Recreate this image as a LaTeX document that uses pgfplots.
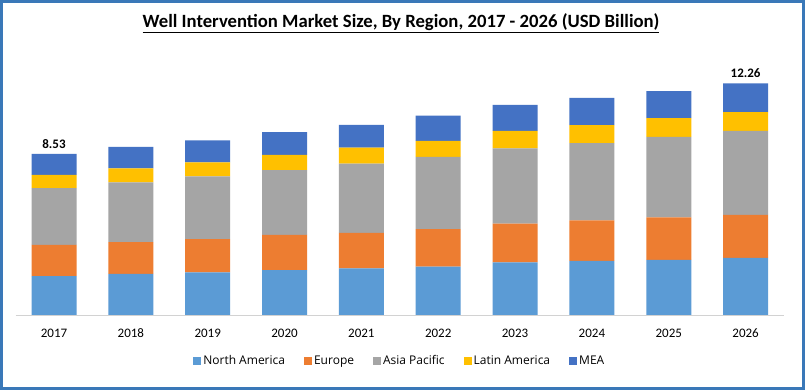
\documentclass[border=0pt]{standalone}
\usepackage{pgfplots}
\pgfplotsset{compat=1.18}
\usepackage{pgfplotstable}
\usepackage{fontspec}
\setmainfont{Carlito}[Numbers={Lining,Monospaced}]
\newfontfamily\legfont{Open Sans}
\definecolor{cNA}{HTML}{5B9BD5}
\definecolor{cEU}{HTML}{ED7D31}
\definecolor{cAP}{HTML}{A5A5A5}
\definecolor{cLA}{HTML}{FFC000}
\definecolor{cME}{HTML}{4472C4}
\definecolor{frame}{HTML}{3A78B8}
\pgfplotstableread{
x NA EU AP LA MEA
0 2.06 1.65 3.00 0.71 1.11
1 2.17 1.69 3.16 0.74 1.13
2 2.26 1.76 3.32 0.74 1.16
3 2.37 1.87 3.42 0.81 1.20
4 2.47 1.87 3.67 0.85 1.20
5 2.56 1.99 3.81 0.85 1.34
6 2.79 2.04 3.99 0.92 1.38
7 2.86 2.15 4.09 0.95 1.44
8 2.91 2.26 4.25 1.00 1.43
9 3.02 2.28 4.44 1.00 1.52
}\datatable
\begin{document}
\begin{tikzpicture}[x=1pt,y=1pt]
\useasboundingbox (0,0) rectangle (805,390);
\fill[white] (0,0) rectangle (805,390);
\draw[frame, line width=3pt] (1.5,1.5) rectangle (803.5,388.5);
\node[font=\fontsize{18.7}{21}\selectfont\bfseries] at (401,367) {\underline{Well Intervention Market Size, By Region, 2017 - 2026 (USD Billion)}};
\begin{axis}[
  at={(15.6pt,75pt)}, anchor=south west,
  scale only axis, width=768.4pt, height=264.6pt,
  ybar stacked, bar width=45pt,
  xmin=-0.5, xmax=9.5, ymin=0, ymax=14,
  axis y line=none, axis x line*=bottom,
  x axis line style={draw=gray!35, line width=0.8pt},
  xtick=data, major tick length=0pt,
  xticklabels={2017,2018,2019,2020,2021,2022,2023,2024,2025,2026},
  xticklabel style={font=\fontsize{13}{15}\selectfont, anchor=north, text height=9pt, text depth=0pt, yshift=-10pt},
  ytick=\empty,
  legend columns=-1,
  legend style={at={(0.5,-0.174)}, anchor=center, draw=none,
    font=\legfont\fontsize{12}{14}\selectfont,
    /tikz/every even column/.append style={column sep=17pt}},
  legend image code/.code={\fill[#1] (0pt,-4pt) rectangle (8pt,4pt);},
]
\addplot[fill=cNA, draw=none] table[x=x,y=NA]{\datatable};
\addplot[fill=cEU, draw=none] table[x=x,y=EU]{\datatable};
\addplot[fill=cAP, draw=none] table[x=x,y=AP]{\datatable};
\addplot[fill=cLA, draw=none] table[x=x,y=LA]{\datatable};
\addplot[fill=cME, draw=none] table[x=x,y=MEA]{\datatable};
\legend{North America,Europe,Asia Pacific,Latin America,MEA}
\node[anchor=south, font=\fontsize{13}{15}\selectfont\bfseries, yshift=2pt] at (axis cs:0,8.53) {8.53};
\node[anchor=south, font=\fontsize{13}{15}\selectfont\bfseries, yshift=2pt] at (axis cs:9,12.26) {12.26};
\end{axis}
\end{tikzpicture}
\end{document}
